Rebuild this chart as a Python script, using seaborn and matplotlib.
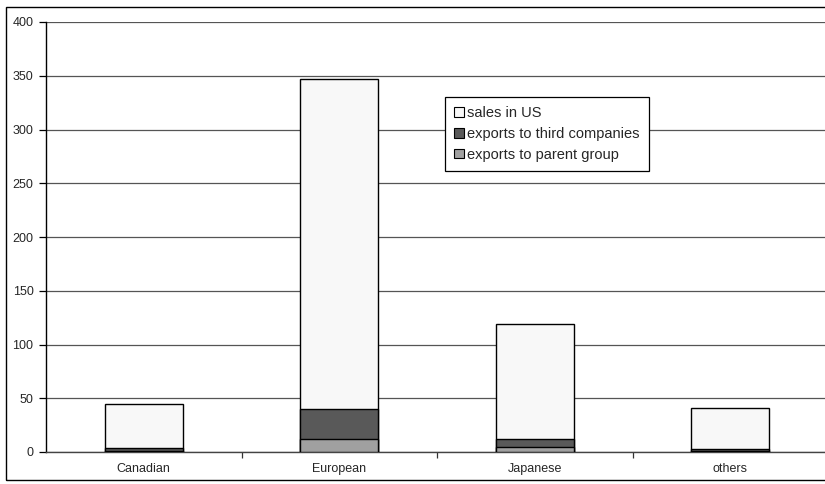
import matplotlib
matplotlib.use("Agg")
import matplotlib.pyplot as plt
from matplotlib.patches import Patch, Rectangle
import numpy as np
import pandas as pd
import seaborn as sns

categories = ["Canadian", "European", "Japanese", "others"]
parent_group = [1, 12, 5, 1]
third_companies = [3, 28, 7, 2]
sales_us = [41, 307, 107, 38]
y_ticks = [0, 50, 100, 150, 200, 250, 300, 350, 400]

sns.set_theme(style="white")
plt.rcParams["font.family"] = ["Liberation Sans", "DejaVu Sans"]

df = pd.DataFrame({
    "origin": categories,
    "parent": parent_group,
    "third": third_companies,
    "sales": sales_us,
})
df["lvl2"] = df["parent"] + df["third"]
df["lvl3"] = df["lvl2"] + df["sales"]

fig = plt.figure(figsize=(8.25, 4.84), dpi=100)
ax = fig.add_axes([46 / 825, 1 - 452 / 484, 782 / 825, 430 / 484])

colors = {"sales": "#f8f8f8", "third": "#595959", "parent": "#a0a0a0"}
for col, c in [("lvl3", colors["sales"]), ("lvl2", colors["third"]), ("parent", colors["parent"])]:
    sns.barplot(data=df, x="origin", y=col, color=c, width=0.4, edgecolor="black",
                linewidth=1.0, saturation=1, ax=ax, zorder=3)

ax.set_ylim(0, 400)
ax.set_xlim(-0.5, 3.5)
ax.set_yticks(y_ticks)
ax.set_yticklabels([str(t) for t in y_ticks], fontsize=9)
ax.set_xlabel("")
ax.set_ylabel("")
ax.yaxis.grid(True, color="#555555", linewidth=0.9, zorder=0)
ax.set_axisbelow(True)

ax.set_xticks(range(len(categories)))
ax.set_xticklabels(categories, fontsize=9)
ax.tick_params(axis="x", length=0, pad=8)
ax.set_xticks([0.5, 1.5, 2.5], minor=True)
ax.tick_params(axis="x", which="minor", length=4, width=0.9, color="#333333", direction="out", bottom=True)
ax.tick_params(axis="y", length=5, width=0.9, color="black", direction="out", left=True, pad=4)

for s in ["top", "right"]:
    ax.spines[s].set_visible(False)
ax.spines["left"].set_color("black")
ax.spines["left"].set_linewidth(1.0)
ax.spines["bottom"].set_color("#444444")
ax.spines["bottom"].set_linewidth(1.0)

handles = [
    Patch(facecolor=colors["sales"], edgecolor="black", linewidth=0.8, label="sales in US"),
    Patch(facecolor=colors["third"], edgecolor="black", linewidth=0.8, label="exports to third companies"),
    Patch(facecolor=colors["parent"], edgecolor="black", linewidth=0.8, label="exports to parent group"),
]
leg = ax.legend(handles=handles, loc="upper left", bbox_to_anchor=((445 - 46) / 782, (452 - 97) / 430),
                fontsize=10.5, frameon=True, fancybox=False, edgecolor="black", framealpha=1,
                handlelength=0.65, handleheight=0.65, handletextpad=0.2, borderpad=0.65,
                labelspacing=0.45, borderaxespad=0)
leg.get_frame().set_linewidth(0.9)
leg.set_zorder(5)

fig.patches.append(Rectangle((6 / 825, 4 / 484), 1.0, 1 - 11 / 484, transform=fig.transFigure,
                             fill=False, edgecolor="black", linewidth=1.0))

fig.savefig("out.png", dpi=100)
